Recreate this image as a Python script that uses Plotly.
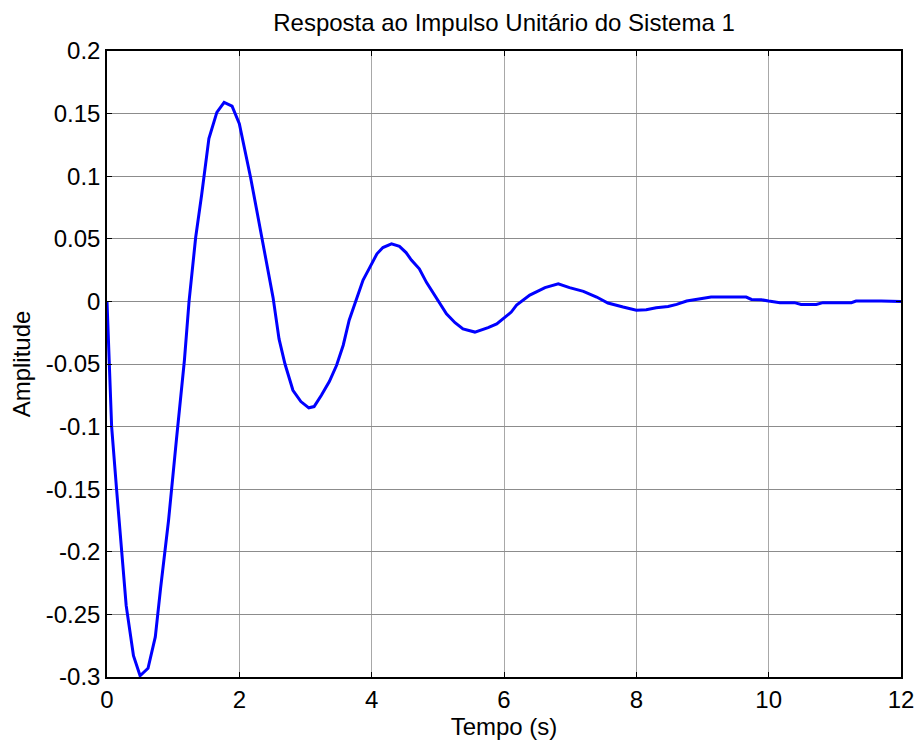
import plotly.graph_objects as go

# Time samples (s) and amplitudes
tempo = [0.0, 0.07, 0.146, 0.22, 0.29, 0.40, 0.50, 0.62, 0.73, 0.81, 0.93, 1.05,
         1.17, 1.24, 1.34, 1.43, 1.54, 1.66, 1.77, 1.89, 2.00, 2.17, 2.34, 2.51,
         2.60, 2.69, 2.81, 2.93, 3.05, 3.13, 3.24, 3.36, 3.47, 3.57, 3.66, 3.77,
         3.87, 3.97, 4.08, 4.17, 4.30, 4.42, 4.52, 4.60, 4.72, 4.83, 5.00, 5.13,
         5.26, 5.38, 5.56, 5.76, 5.89, 6.01, 6.11, 6.19, 6.39, 6.62, 6.82, 6.99,
         7.20, 7.40, 7.57, 7.80, 8.00, 8.15, 8.30, 8.48, 8.61, 8.76, 8.93, 9.13,
         9.40, 9.66, 9.74, 9.89, 10.00, 10.17, 10.39, 10.49, 10.72, 10.82, 11.25,
         11.32, 11.70, 12.00]
amplitude = [0.0, -0.100, -0.151, -0.199, -0.243, -0.283, -0.299, -0.293, -0.268,
             -0.229, -0.175, -0.110, -0.047, 0.000, 0.051, 0.085, 0.130, 0.151,
             0.159, 0.156, 0.142, 0.099, 0.051, 0.003, -0.030, -0.050, -0.071,
             -0.080, -0.085, -0.084, -0.075, -0.064, -0.051, -0.035, -0.015, 0.001,
             0.017, 0.027, 0.038, 0.043, 0.046, 0.044, 0.039, 0.033, 0.026, 0.015,
             0.001, -0.010, -0.017, -0.022, -0.0245, -0.021, -0.018, -0.0125,
             -0.0085, -0.003, 0.005, 0.011, 0.014, 0.011, 0.008, 0.0035, -0.0013,
             -0.0045, -0.007, -0.0066, -0.005, -0.004, -0.0024, 0.0003, 0.002,
             0.0035, 0.0035, 0.0035, 0.0016, 0.0013, 0.0003, -0.001, -0.001,
             -0.0024, -0.0024, -0.001, -0.001, 0.0003, 0.0003, 0.0]

x_ticks = [0, 2, 4, 6, 8, 10, 12]
y_ticks = [0.2, 0.15, 0.1, 0.05, 0, -0.05, -0.1, -0.15, -0.2, -0.25, -0.3]
y_labels = ["0.2", "0.15", "0.1", "0.05", "0", "-0.05", "-0.1", "-0.15", "-0.2", "-0.25", "-0.3"]

font_family = "Liberation Sans, Arial, sans-serif"
fs = 24

fig = go.Figure()
fig.add_trace(go.Scatter(
    x=tempo, y=amplitude, mode="lines",
    line=dict(color="#0000ff", width=3),
    showlegend=False, hoverinfo="x+y",
))

fig.update_layout(
    width=919, height=741,
    margin=dict(l=107, r=18, t=51, b=64, autoexpand=False),
    paper_bgcolor="white", plot_bgcolor="white",
    font=dict(family=font_family, size=fs, color="black"),
    title=dict(text="Resposta ao Impulso Unitário do Sistema 1",
               xref="paper", x=0.5, xanchor="center",
               yref="container", y=0.970, yanchor="middle",
               font=dict(family=font_family, size=fs, color="black")),
    xaxis=dict(
        range=[0, 12], tickvals=x_ticks, ticktext=[str(v) for v in x_ticks],
        showgrid=True, gridcolor="#a8a8a8", gridwidth=1, automargin=False,
        zeroline=False, showline=True, linecolor="black", linewidth=1.5,
        mirror="ticks", ticks="inside", ticklen=5, tickcolor="black",
        title=dict(text="Tempo (s)", standoff=3,
                   font=dict(family=font_family, size=fs)),
        tickfont=dict(family=font_family, size=fs),
    ),
    yaxis=dict(
        range=[-0.3, 0.2], tickvals=y_ticks, ticktext=y_labels,
        showgrid=True, gridcolor="#8c8c8c", gridwidth=1, automargin=False,
        zeroline=False, showline=True, linecolor="black", linewidth=1.5,
        mirror="ticks", ticks="inside", ticklen=5, tickcolor="black",
        title=dict(text="Amplitude", standoff=8,
                   font=dict(family=font_family, size=fs)),
        tickfont=dict(family=font_family, size=fs),
    ),
)

fig.write_html("out.html")
